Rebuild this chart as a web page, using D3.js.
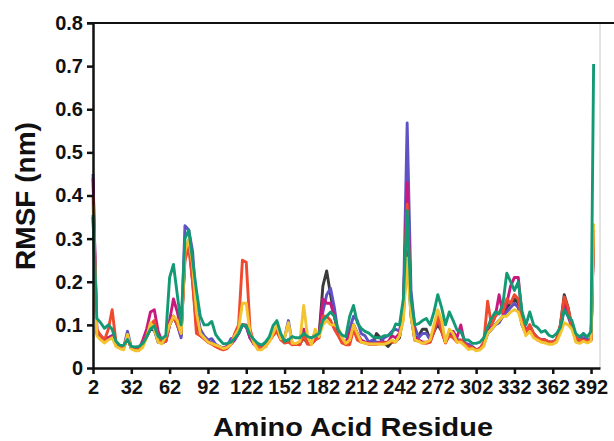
<!DOCTYPE html>
<html>
<head>
<meta charset="utf-8">
<script src="https://cdn.jsdelivr.net/npm/d3@7"></script>
<style>
  body { margin: 0; background: #fff; }
  text { font-family: 'Liberation Sans', Arial, sans-serif; font-weight: bold; fill: #111; }
  .series { fill: none; stroke-width: 2.9; stroke-linejoin: round; }
</style>
</head>
<body>
<div id="rmsf-chart"></div>
<script>
// SVG dimensions
var w = 614;
var h = 441;

// Residue numbers (every 3rd residue, plus the last one)
var residues = d3.range(2, 393, 3).concat([394]);
var xTicks = [2, 32, 62, 92, 122, 152, 182, 212, 242, 272, 302, 332, 362, 392];
var yTicks = [0, 0.1, 0.2, 0.3, 0.4, 0.5, 0.6, 0.7, 0.8];

// RMSF values (nm), one array per system
var blackRmsf = [
  0.35, 0.08, 0.072, 0.063, 0.07, 0.072, 0.055, 0.05, 0.047, 0.07,
  0.046, 0.043, 0.043, 0.055, 0.072, 0.09, 0.088, 0.06, 0.058, 0.062,
  0.1, 0.12, 0.1, 0.075, 0.26, 0.29, 0.23, 0.12, 0.085, 0.072,
  0.062, 0.058, 0.052, 0.048, 0.045, 0.05, 0.056, 0.068, 0.08, 0.1,
  0.098, 0.07, 0.057, 0.05, 0.046, 0.052, 0.064, 0.078, 0.088, 0.068,
  0.062, 0.065, 0.057, 0.057, 0.056, 0.07, 0.057, 0.057, 0.065, 0.075,
  0.19, 0.225, 0.17, 0.12, 0.08, 0.062, 0.057, 0.07, 0.1, 0.08,
  0.062, 0.06, 0.058, 0.057, 0.08, 0.07, 0.058, 0.05, 0.06, 0.062,
  0.07, 0.12, 0.27, 0.12, 0.065, 0.075, 0.09, 0.09, 0.065, 0.085,
  0.1, 0.085, 0.06, 0.08, 0.075, 0.062, 0.062, 0.055, 0.05, 0.048,
  0.042, 0.045, 0.055, 0.08, 0.09, 0.1, 0.11, 0.12, 0.14, 0.15,
  0.16, 0.15, 0.1, 0.08, 0.09, 0.08, 0.07, 0.065, 0.065, 0.06,
  0.06, 0.065, 0.1, 0.17, 0.14, 0.094, 0.07, 0.065, 0.068, 0.063,
  0.067, 0.32
];

var purpleRmsf = [
  0.45, 0.08, 0.075, 0.065, 0.07, 0.075, 0.055, 0.05, 0.048, 0.085,
  0.048, 0.043, 0.042, 0.055, 0.075, 0.095, 0.09, 0.06, 0.058, 0.062,
  0.1, 0.12, 0.1, 0.07, 0.33, 0.32, 0.27, 0.14, 0.09, 0.075,
  0.065, 0.068, 0.055, 0.05, 0.046, 0.05, 0.068, 0.07, 0.08, 0.1,
  0.095, 0.07, 0.058, 0.05, 0.047, 0.052, 0.065, 0.08, 0.09, 0.07,
  0.07, 0.11, 0.057, 0.057, 0.057, 0.085, 0.057, 0.057, 0.065, 0.073,
  0.13, 0.17, 0.185, 0.14, 0.08, 0.065, 0.057, 0.09, 0.12, 0.11,
  0.08, 0.075, 0.06, 0.065, 0.06, 0.06, 0.07, 0.075, 0.085, 0.09,
  0.085, 0.14, 0.568, 0.18, 0.095, 0.07, 0.08, 0.08, 0.065, 0.085,
  0.11, 0.09, 0.06, 0.08, 0.075, 0.065, 0.065, 0.057, 0.055, 0.05,
  0.042, 0.045, 0.055, 0.08, 0.09, 0.1, 0.105, 0.12, 0.13, 0.14,
  0.15, 0.14, 0.1, 0.08, 0.09, 0.08, 0.07, 0.065, 0.065, 0.06,
  0.06, 0.065, 0.085, 0.14, 0.12, 0.094, 0.07, 0.065, 0.08, 0.065,
  0.067, 0.32
];

var magentaRmsf = [
  0.44, 0.085, 0.075, 0.065, 0.07, 0.075, 0.055, 0.05, 0.048, 0.07,
  0.046, 0.043, 0.043, 0.065, 0.09, 0.13, 0.135, 0.085, 0.062, 0.065,
  0.11, 0.16, 0.13, 0.09, 0.26, 0.29, 0.2, 0.1, 0.075, 0.068,
  0.06, 0.058, 0.05, 0.047, 0.045, 0.05, 0.055, 0.065, 0.08, 0.1,
  0.1, 0.07, 0.055, 0.05, 0.046, 0.05, 0.065, 0.08, 0.09, 0.068,
  0.062, 0.065, 0.057, 0.057, 0.055, 0.09, 0.057, 0.057, 0.085, 0.073,
  0.16, 0.15, 0.15, 0.12, 0.08, 0.062, 0.057, 0.08, 0.1, 0.08,
  0.065, 0.06, 0.058, 0.057, 0.057, 0.06, 0.06, 0.06, 0.075, 0.07,
  0.08, 0.13, 0.43, 0.14, 0.07, 0.065, 0.06, 0.06, 0.06, 0.085,
  0.12, 0.09, 0.06, 0.08, 0.085, 0.07, 0.1, 0.057, 0.05, 0.048,
  0.042, 0.045, 0.055, 0.09, 0.1, 0.12, 0.17, 0.125, 0.15, 0.19,
  0.21, 0.21, 0.12, 0.085, 0.1, 0.08, 0.065, 0.065, 0.065, 0.06,
  0.06, 0.065, 0.09, 0.15, 0.13, 0.094, 0.07, 0.062, 0.065, 0.062,
  0.065, 0.32
];

var redRmsf = [
  0.4, 0.09, 0.075, 0.065, 0.09, 0.135, 0.06, 0.05, 0.046, 0.07,
  0.045, 0.042, 0.042, 0.055, 0.075, 0.1, 0.11, 0.07, 0.06, 0.062,
  0.1, 0.12, 0.1, 0.08, 0.25, 0.28, 0.2, 0.08, 0.075, 0.068,
  0.06, 0.055, 0.05, 0.045, 0.042, 0.045, 0.055, 0.08, 0.1, 0.25,
  0.245, 0.09, 0.058, 0.05, 0.045, 0.05, 0.062, 0.075, 0.085, 0.065,
  0.058, 0.06, 0.054, 0.055, 0.054, 0.075, 0.055, 0.055, 0.065, 0.07,
  0.12, 0.12, 0.11, 0.09, 0.075, 0.058, 0.054, 0.054, 0.09, 0.065,
  0.06, 0.058, 0.055, 0.055, 0.055, 0.058, 0.058, 0.06, 0.06, 0.06,
  0.075, 0.13, 0.38, 0.13, 0.065, 0.062, 0.058, 0.057, 0.06, 0.085,
  0.12, 0.085, 0.058, 0.075, 0.07, 0.06, 0.065, 0.055, 0.05, 0.047,
  0.042, 0.045, 0.06, 0.155, 0.1, 0.12, 0.13, 0.13, 0.16, 0.15,
  0.17, 0.16, 0.11, 0.08, 0.1, 0.08, 0.07, 0.065, 0.065, 0.06,
  0.06, 0.065, 0.1, 0.165, 0.14, 0.094, 0.07, 0.065, 0.065, 0.062,
  0.065, 0.3
];

var yellowRmsf = [
  0.378, 0.075, 0.065, 0.058, 0.065, 0.07, 0.05, 0.045, 0.042, 0.078,
  0.044, 0.04, 0.04, 0.048, 0.07, 0.105, 0.09, 0.06, 0.056, 0.075,
  0.1, 0.12, 0.11, 0.08, 0.27, 0.3, 0.24, 0.13, 0.08, 0.07,
  0.06, 0.057, 0.053, 0.05, 0.045, 0.048, 0.055, 0.075, 0.09, 0.15,
  0.15, 0.08, 0.058, 0.042, 0.042, 0.05, 0.06, 0.08, 0.1, 0.068,
  0.07, 0.105, 0.057, 0.057, 0.062, 0.145, 0.073, 0.054, 0.09, 0.073,
  0.1, 0.11, 0.1, 0.1, 0.094, 0.07, 0.057, 0.065, 0.1, 0.08,
  0.06, 0.058, 0.056, 0.056, 0.056, 0.055, 0.055, 0.058, 0.065, 0.06,
  0.075, 0.11, 0.255, 0.12, 0.065, 0.062, 0.057, 0.06, 0.065, 0.1,
  0.135, 0.11, 0.06, 0.09, 0.08, 0.06, 0.06, 0.052, 0.043, 0.045,
  0.04, 0.042, 0.05, 0.08, 0.09, 0.1, 0.11, 0.12, 0.12, 0.13,
  0.135, 0.13, 0.1, 0.075, 0.085, 0.07, 0.065, 0.06, 0.058, 0.055,
  0.055, 0.06, 0.08, 0.105, 0.1, 0.09, 0.06, 0.057, 0.062, 0.058,
  0.062, 0.335
];

var greenRmsf = [
  0.355, 0.115, 0.105, 0.092, 0.1, 0.09, 0.062, 0.053, 0.052, 0.066,
  0.05, 0.049, 0.05, 0.057, 0.072, 0.09, 0.098, 0.073, 0.068, 0.075,
  0.21, 0.24, 0.17, 0.1, 0.3, 0.32, 0.25, 0.18, 0.12, 0.1,
  0.1, 0.108, 0.078, 0.066, 0.056, 0.057, 0.06, 0.068, 0.08, 0.1,
  0.098, 0.077, 0.066, 0.057, 0.053, 0.06, 0.072, 0.098, 0.11, 0.08,
  0.062, 0.065, 0.073, 0.07, 0.07, 0.08, 0.073, 0.07, 0.075, 0.08,
  0.11, 0.12, 0.13, 0.12, 0.088, 0.076, 0.073, 0.12, 0.145, 0.104,
  0.092, 0.085, 0.081, 0.073, 0.07, 0.07, 0.075, 0.075, 0.08, 0.102,
  0.1, 0.16, 0.365, 0.16, 0.1, 0.103, 0.11, 0.115, 0.1, 0.13,
  0.17, 0.14, 0.1, 0.13, 0.11, 0.088, 0.085, 0.065, 0.065, 0.057,
  0.057, 0.06, 0.07, 0.095, 0.115, 0.13, 0.125, 0.15, 0.22, 0.2,
  0.18, 0.2, 0.13, 0.1, 0.13, 0.1, 0.094, 0.083, 0.087, 0.076,
  0.072, 0.08, 0.094, 0.135, 0.12, 0.11, 0.08, 0.072, 0.08, 0.072,
  0.085, 0.705
];

// Drawing order: first drawn ends up at the back
var seriesList = [
  { name: 'black', color: '#3a3a3a', values: blackRmsf },
  { name: 'purple', color: '#5f52c4', values: purpleRmsf },
  { name: 'magenta', color: '#c8197f', values: magentaRmsf },
  { name: 'red', color: '#f04a2e', values: redRmsf },
  { name: 'yellow', color: '#f2c530', values: yellowRmsf },
  { name: 'green', color: '#139a75', values: greenRmsf },
];

// Define SVG
var svg = d3.select('#rmsf-chart')
  .append('svg')
  .attr('width', w)
  .attr('height', h);

// Scales
var xScale = d3.scaleLinear()
  .domain([2, 399])
  .range([93, 600]);

var yScale = d3.scaleLinear()
  .domain([0, 0.8])
  .range([368, 23]);

// Right frame (light grey) and top frame line
svg.append('line')
  .attr('x1', 600).attr('x2', 600)
  .attr('y1', yScale(0.8)).attr('y2', yScale(0))
  .attr('stroke', '#c8c8c8')
  .attr('stroke-width', 1);

svg.append('line')
  .attr('x1', 87).attr('x2', w)
  .attr('y1', yScale(0.8)).attr('y2', yScale(0.8))
  .attr('stroke', '#111')
  .attr('stroke-width', 2);

// Lines
var line = d3.line()
  .x((d, i) => xScale(residues[i]))
  .y(d => yScale(d));

svg.append('g')
  .attr('id', 'rmsf-lines')
  .selectAll('path')
  .data(seriesList)
  .enter()
  .append('path')
  .attr('class', 'series')
  .attr('stroke', d => d.color)
  .attr('d', d => line(d.values));

// Axes
var xAxis = d3.axisBottom()
  .scale(xScale)
  .tickValues(xTicks)
  .tickSize(6)
  .tickPadding(6)
  .tickSizeOuter(0);

var xAxisGroup = svg.append('g')
  .attr('class', 'axis')
  .attr('transform', `translate(0, ${yScale(0)})`)
  .call(xAxis);

var yAxis = d3.axisLeft()
  .scale(yScale)
  .tickValues(yTicks)
  .tickFormat(d => d === 0 ? '0' : d3.format('.1f')(d))
  .tickSize(6)
  .tickPadding(4)
  .tickSizeOuter(0);

var yAxisGroup = svg.append('g')
  .attr('class', 'axis')
  .attr('transform', `translate(${xScale(2)}, 0)`)
  .call(yAxis);

svg.selectAll('.axis path, .axis line')
  .attr('stroke', '#111')
  .attr('stroke-width', 2.5);

svg.selectAll('.axis text')
  .attr('font-size', 20)
  .attr('fill', '#111')
  .attr('font-family', null);

// Axis labels
svg.append('text')
  .attr('x', 353)
  .attr('y', 436)
  .attr('text-anchor', 'middle')
  .attr('font-size', 26)
  .attr('textLength', 280)
  .attr('lengthAdjust', 'spacingAndGlyphs')
  .text('Amino Acid Residue');

svg.append('text')
  .attr('transform', 'translate(35, 196) rotate(-90)')
  .attr('text-anchor', 'middle')
  .attr('font-size', 28)
  .text('RMSF (nm)');
</script>
</body>
</html>
